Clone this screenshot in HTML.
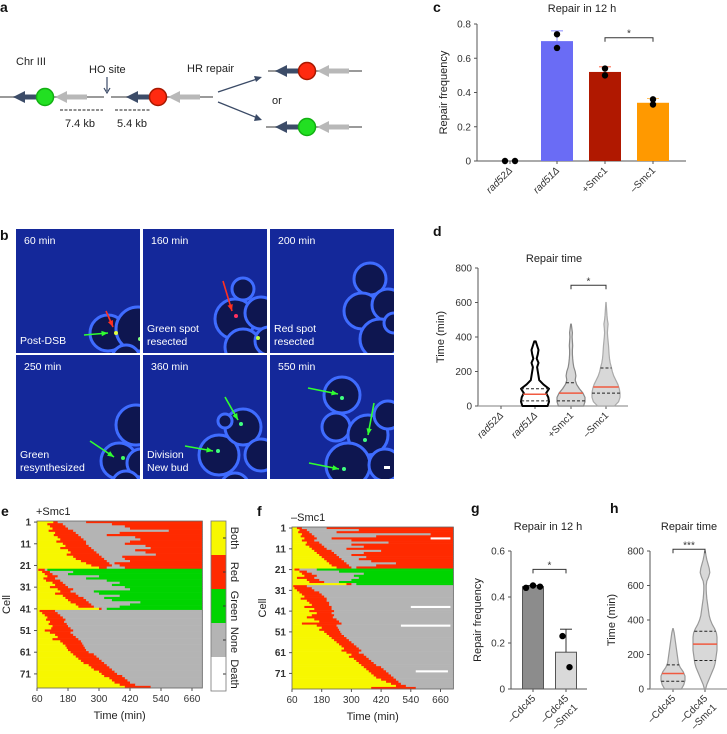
<!DOCTYPE html>
<html><head><meta charset="utf-8">
<style>
html,body{margin:0;padding:0;background:#fff;}
svg{display:block;font-family:"Liberation Sans",sans-serif;}
.t{font-size:10px;fill:#333;}
.ti{font-size:11px;fill:#222;}
.pl{font-size:14px;font-weight:bold;fill:#111;}
.w{font-size:10.5px;fill:#fff;}
</style></head>
<body>
<svg id="fig" width="727" height="734" viewBox="0 0 727 734" xmlns="http://www.w3.org/2000/svg">
<!-- panel a -->
<g>
<text class="pl" x="0" y="12">a</text>
<text class="ti" x="16" y="65">Chr III</text>
<text class="ti" x="89" y="73">HO site</text>
<line x1="107" y1="77" x2="107" y2="91" stroke="#3a4a66" stroke-width="1.2"/>
<path d="M104,88 L107,93 L110,88" fill="none" stroke="#3a4a66" stroke-width="1.2"/>
<text class="ti" x="187" y="72">HR repair</text>
<text class="ti" x="272" y="104">or</text>
<line x1="60" y1="110" x2="103" y2="110" stroke="#222" stroke-dasharray="3,1.5" stroke-width="1"/>
<line x1="115" y1="110" x2="150" y2="110" stroke="#222" stroke-dasharray="3,1.5" stroke-width="1"/>
<text class="ti" x="65" y="127">7.4 kb</text>
<text class="ti" x="117" y="127">5.4 kb</text>
<line x1="218" y1="92" x2="260" y2="78" stroke="#3a4a66" stroke-width="1.3"/>
<path d="M254,76 L262,77 L256,82 Z" fill="#3a4a66"/>
<line x1="218" y1="102" x2="260" y2="119" stroke="#3a4a66" stroke-width="1.3"/>
<path d="M256,114 L262,120 L254,121 Z" fill="#3a4a66"/>
</g>
<g id="diag"></g>
<!-- panel b -->
<text class="pl" x="0" y="240">b</text>
<g id="micro"></g>
<!-- panel c -->
<text class="pl" x="433" y="12">c</text>
<g id="pc"></g>
<!-- panel d -->
<text class="pl" x="433" y="236">d</text>
<g id="pd"></g>
<!-- panel e, f -->
<text class="pl" x="1" y="516">e</text>
<g id="pe"></g>
<text class="pl" x="257" y="516">f</text>
<g id="pf"></g>
<!-- g h -->
<text class="pl" x="471" y="513">g</text>
<g id="pg"></g>
<text class="pl" x="610" y="513">h</text>
<g id="ph"></g>
</svg>
<script>
// ---------- data ----------
const cCats = ["rad52Δ","rad51Δ","+Smc1","–Smc1"];
const cItalic = [true,true,false,false];
const cVals = [0,0.70,0.52,0.34];
const cErr = [0,0.76,0.55,0.365];
const cDots = [[0,0],[0.74,0.66],[0.54,0.50],[0.36,0.33]];
const cTicks = [0,0.2,0.4,0.6,0.8];
const cColors = ["#6a6cf5","#6a6cf5","#b01800","#ff9900"];

const dCats = ["rad52Δ","rad51Δ","+Smc1","–Smc1"];
const dTicks = [0,200,400,600,800];
const dDens = [[],
 [0.9,1.0,0.95,0.8,1.0,0.6,0.3,0.25,0.2,0.15,0.25,0.12,0.2,0.25,0.15,0.05],
 [0.9,1.0,1.0,0.85,0.6,0.4,0.3,0.35,0.3,0.2,0.15,0.12,0.1,0.1,0.12,0.1,0.08,0.1,0.06,0.02],
 [0.6,0.9,1.0,1.0,0.95,0.85,0.7,0.55,0.45,0.38,0.3,0.25,0.22,0.2,0.18,0.15,0.12,0.1,0.12,0.15,0.1,0.07,0.05,0.03,0.01]];
const dMedian = [null,68,75,110];
const dQ1 = [null,30,30,75];
const dQ3 = [null,100,135,220];

const gCats = ["–Cdc45","–Cdc45\n–Smc1"];
const gVals = [0.445,0.16];
const gErr = [0.45,0.26];
const gDots = [[0.44,0.45,0.445],[0.23,0.095]];
const gTicks = [0,0.2,0.4,0.6];

const hCats = ["–Cdc45","–Cdc45\n–Smc1"];
const hTicks = [0,200,400,600,800];
const hDens = [
 [0.7,0.9,1.0,1.0,0.85,0.6,0.45,0.4,0.35,0.3,0.25,0.2,0.15,0.1,0.02],
 [0.05,0.15,0.3,0.45,0.6,0.75,0.85,0.9,0.95,1,1,1,1,0.95,0.8,0.6,0.45,0.35,0.3,0.25,0.2,0.15,0.12,0.1,0.1,0.15,0.3,0.4,0.35,0.25,0.15,0.08,0.02]];
const hMedian = [90,260];
const hQ1 = [45,165];
const hQ3 = [140,335];

// heatmap e (+Smc1): each row: yellow until t1, red until t2, grey until t3, final state to end
const eFinal = ["R","G","N"];
const eT1 = [
 [123,100,110,120,105,130,125,140,150,135,160,170,150,180,190,175,200,210,230,250,270,300],
 [65,80,90,100,85,95,120,130,110,140,150,130,160,170,180,190,210,220,300],
 [70,80,90,100,95,110,105,120,115,90,110,130,140,120,150,160,170,175,180,190,200,210,220,230,240,260,270,280,300,310,320,340,350,360,380,400]];
const eT2 = [
 [140,160,170,180,200,210,220,230,240,250,250,260,270,280,290,300,310,320,330,340,350,330],
 [90,110,120,140,130,150,160,170,180,200,190,210,220,240,250,260,270,280,310],
 [130,140,150,160,170,165,175,180,190,200,190,200,210,220,230,235,240,245,250,260,280,290,300,310,320,330,340,350,360,370,390,400,410,420,440,500]];
const eT3 = [
 [250,350,400,420,570,380,330,440,460,420,400,480,500,440,480,520,390,400,420,360,380,400],
 [100,200,180,300,250,330,380,350,400,420,280,300,380,320,350,460,420,380,330],
 null];
// heatmap f (–Smc1)
const fFinal = ["R","G","N"];
const fT1 = [
 [80,90,85,100,95,110,100,120,115,130,140,150,160,170,180,190,200,210,220,240],
 [70,90,100,110,80,120,130,280],
 [65,70,80,90,100,110,95,120,130,140,110,150,130,160,140,120,150,170,100,160,180,170,190,200,210,220,230,240,250,260,270,260,280,300,290,310,320,330,340,350,360,370,380,390,400,420,440,460,480,380]];
const fT2 = [
 [100,120,130,140,150,160,150,170,180,190,200,220,230,240,250,260,270,280,290,300],
 [90,120,140,160,150,170,190,300],
 [120,140,150,170,180,190,200,200,210,210,220,220,230,220,230,225,240,250,260,240,245,250,255,260,270,280,290,300,310,320,330,340,330,350,360,370,380,390,400,420,430,440,450,460,470,480,490,500,520,560]];
const fT3 = [
 [200,330,240,620,400,220,300,450,300,350,280,420,350,300,360,330,380,480,400,320],
 [160,250,350,310,330,300,250,320],
 null];
const fDeathRow = [6,39,48,70];
const fDeathStart = [620,540,500,560];
const fDeathEnd = [700,700,700,690];
const heatTicks = [60,180,300,420,540,660];
const cellTicks = [1,11,21,31,41,51,61,71];

const COL = {Y:"#f7f700",R:"#ff2a00",G:"#00d400",N:"#b4b4b4",W:"#ffffff"};
const NS = "http://www.w3.org/2000/svg";
function mk(tag, at, parent){const e=document.createElementNS(NS,tag);for(const k in at)e.setAttribute(k,at[k]);parent.appendChild(e);return e;}
function txt(s, at, parent){const e=mk("text",at,parent);e.textContent=s;return e;}

// ---------- panel a locus drawings ----------
(function(){
 const g=document.getElementById("diag");
 function locus(x0,x1,y,cx,color,stroke){
  const l=mk("line",{x1:x0,y1:y,x2:x1,y2:y,stroke:"#9a9a9a","stroke-width":2},g);
  
  
  const da=mk("path",{d:`M${cx-32},${y} L${cx-20},${y-6} L${cx-20},${y-2.5} L${cx-6},${y-2.5} L${cx-6},${y+2.5} L${cx-20},${y+2.5} L${cx-20},${y+6} Z`,fill:"#3c4c68"},g);
  
  
  const ga=mk("path",{d:`M${cx+10},${y} L${cx+22},${y-6} L${cx+22},${y-2.5} L${cx+42},${y-2.5} L${cx+42},${y+2.5} L${cx+22},${y+2.5} L${cx+22},${y+6} Z`,fill:"#b8b8b8"},g);
  
  
  const c=mk("circle",{cx:cx,cy:y,r:8.5,fill:color,stroke:stroke,"stroke-width":1.5},g);
  
  
 }
 locus(0,104,97,45,"#22e022","#12b012");
 locus(111,213,97,158,"#ff2a10","#a81800");
 locus(268,362,71,307,"#ff2a10","#a81800");
 locus(266,362,127,307,"#22e022","#12b012");
})();

// ---------- panel b microscopy ----------
(function(){
 const g=document.getElementById("micro");
 const tiles=[
  {x:16,y:229,t:"60 min",lab:["Post-DSB"],cells:[[92,104,18],[122,100,22],[110,130,14]],spots:[[100,104,"#e0ff40"],[124,110,"#80ff80"]],arrows:[[68,106,92,104,"#30ff30"],[90,82,97,98,"#ff3020"]]},
  {x:143,y:229,t:"160 min",lab:["Green spot","resected"],cells:[[92,90,20],[118,84,16],[100,118,18],[100,60,11],[126,112,14]],spots:[[93,87,"#ff3060"],[115,109,"#c0ff40"]],arrows:[[80,52,89,82,"#ff3020"]]},
  {x:270,y:229,t:"200 min",lab:["Red spot","resected"],cells:[[100,50,16],[92,82,18],[118,76,16],[110,110,20],[124,94,10]],spots:[],arrows:[]},
  {x:16,y:355,t:"250 min",lab:["Green","resynthesized"],cells:[[103,106,18],[120,70,20],[125,108,14],[110,130,14]],spots:[[107,72+0,"#00000000"],[107,103,"#40ff60"]],arrows:[[74,86,98,102,"#30ff30"]]},
  {x:143,y:355,t:"360 min",lab:["Division","New bud"],cells:[[76,100,20],[100,72,18],[82,66,7],[118,100,16],[92,132,14]],spots:[[98,69,"#40ff80"],[75,96,"#40ff80"]],arrows:[[82,42,95,65,"#30ff30"],[42,91,70,96,"#30ff30"]]},
  {x:270,y:355,t:"550 min",lab:[],cells:[[72,40,18],[66,72,14],[98,80,20],[78,110,22],[118,60,14],[115,110,16]],spots:[[72,43,"#40ff80"],[95,85,"#40ff80"],[74,114,"#40ff80"]],arrows:[[38,33,68,39,"#30ff30"],[104,48,98,80,"#30ff30"],[39,108,69,114,"#30ff30"]]}
 ];
 tiles.forEach((T,i)=>{
  const tg=mk("g",{transform:`translate(${T.x},${T.y})`},g);
  
  
  const cp=mk("clipPath",{id:"clip"+i},tg);
  mk("rect",{x:0,y:0,width:124,height:124},cp);
  const inner=mk("g",{"clip-path":`url(#clip${i})`},tg);
  mk("rect",{x:0,y:0,width:124,height:124,fill:"#14289a"},inner);
  T.cells.forEach(c=>{const ce=mk("circle",{cx:c[0],cy:c[1],r:c[2],fill:"#0e1650",stroke:"#3f6cff","stroke-width":3},inner);
   
   });
  T.spots.forEach(s=>{mk("circle",{cx:s[0],cy:s[1],r:2,fill:s[2]},inner);});
  T.arrows.forEach(a=>{
   const ar=mk("line",{x1:a[0],y1:a[1],x2:a[2],y2:a[3],stroke:a[4],"stroke-width":1.6},inner);
   
   
   const ang=Math.atan2(a[3]-a[1],a[2]-a[0]);
   const p1=[a[2]-7*Math.cos(ang-0.4),a[3]-7*Math.sin(ang-0.4)],p2=[a[2]-7*Math.cos(ang+0.4),a[3]-7*Math.sin(ang+0.4)];
   mk("path",{d:`M${a[2]},${a[3]} L${p1[0]},${p1[1]} L${p2[0]},${p2[1]} Z`,fill:a[4]},inner);
  });
  const tt=txt(T.t,{class:"w",x:8,y:15},tg);
  
  
  T.lab.forEach((l,j)=>{const lt=txt(l,{class:"w",x:4,y:(T.lab.length==1?115:103)+j*13},tg);
   
   });
  if(i==5){mk("rect",{x:114,y:111,width:6,height:3,fill:"#fff"},tg);}
 });
})();

// ---------- bar chart helper ----------
function barChart(gid, o){
 const g=document.getElementById(gid);
 const y=v=>o.y0-(v/o.vmax)*(o.y0-o.ytop);
 mk("line",{x1:o.ax,y1:o.ytop,x2:o.ax,y2:o.y0,stroke:"#555","stroke-width":1},g);
 mk("line",{x1:o.ax,y1:o.y0,x2:o.axEnd,y2:o.y0,stroke:"#555","stroke-width":1},g);
 o.ticks.forEach(t=>{
  mk("line",{x1:o.ax-3,y1:y(t),x2:o.ax,y2:y(t),stroke:"#555"},g);
  const tl=txt(String(t),{class:"t",x:o.ax-6,y:y(t)+3.5,"text-anchor":"end"},g);
  
  
 });
 const yl=txt(o.ylabel,{class:"ti",transform:`translate(${o.ylx},${(o.ytop+o.y0)/2}) rotate(-90)`,"text-anchor":"middle"},g);
 
 
 const tt=txt(o.title,{class:"ti",x:o.tx,y:o.ty,"text-anchor":"middle"},g);
 
 
 o.cats.forEach((c,i)=>{
  const cx=o.xs[i];
  if(o.vals[i]>0){
   const b=mk("rect",{x:cx-o.bw/2,y:y(o.vals[i]),width:o.bw,height:o.y0-y(o.vals[i]),fill:o.colors[i],stroke:o.strokes?o.strokes[i]:"none","stroke-width":1},g);
   
   
   const e=mk("line",{x1:cx,y1:y(o.vals[i]),x2:cx,y2:y(o.err[i]),stroke:o.errCol?o.errCol[i]:"#333","stroke-width":1},g);
   
   
   mk("line",{x1:cx-6,y1:y(o.err[i]),x2:cx+6,y2:y(o.err[i]),stroke:o.errCol?o.errCol[i]:"#333","stroke-width":1},g);
  }
  mk("line",{x1:cx,y1:o.y0,x2:cx,y2:o.y0+3,stroke:"#555"},g);
  const n=o.dots[i].length;
  o.dots[i].forEach((d,j)=>{
   const off=o.spread?(j-(n-1)/2)*o.spread:0;
   const dt=mk("circle",{cx:cx+off,cy:y(d),r:3.2,fill:"#000"},g);
   
   
  });
  const lines=c.split("\n");
  lines.forEach((ln,k)=>{
   const lt=txt(ln,{class:"t",transform:`translate(${cx+3+k*9},${o.y0+10+k*9}) rotate(-45)`,"text-anchor":"end","font-style":(o.italic&&o.italic[i])?"italic":"normal"},g);
   
   
  });
 });
 if(o.sig){const [a,b,v,s]=o.sig;
  const br=mk("path",{d:`M${o.xs[a]},${y(v)+4} L${o.xs[a]},${y(v)} L${o.xs[b]},${y(v)} L${o.xs[b]},${y(v)+4}`,fill:"none",stroke:"#333"},g);
  
  
  txt(s,{class:"t",x:(o.xs[a]+o.xs[b])/2,y:y(v)-1,"text-anchor":"middle"},g);}
 return y;
}
barChart("pc",{ax:477,axEnd:686,y0:161,ytop:24,vmax:0.8,ticks:cTicks,cats:cCats,italic:cItalic,xs:[510,557,605,653],bw:32,vals:cVals,err:cErr,errCol:["#333","#8a8cff","#ff6040","#ffc060"],dots:[[0,0],[cDots[1][0],cDots[1][1]],cDots[2],cDots[3]],spread:0,colors:cColors,ylabel:"Repair frequency",ylx:447,title:"Repair in 12 h",tx:582,ty:12,sig:[2,3,0.72,"*"]});
// rad52 dots offset
(function(){const g=document.getElementById("pc");g.querySelectorAll("circle").forEach((c,i)=>{if(i==0)c.setAttribute("cx",505);if(i==1)c.setAttribute("cx",515);});})();
barChart("pg",{ax:511,axEnd:587,y0:689,ytop:551,vmax:0.6,ticks:gTicks,cats:gCats,xs:[533,566],bw:21,vals:gVals,err:gErr,dots:gDots,spread:7,colors:["#8c8c8c","#d9d9d9"],strokes:["#555","#555"],ylabel:"Repair frequency",ylx:481,title:"Repair in 12 h",tx:548,ty:530,sig:[0,1,0.52,"*"]});

// ---------- violin helper ----------
function violin(gid,o){
 const g=document.getElementById(gid);
 const y=v=>o.y0-(v/o.vmax)*(o.y0-o.ytop);
 mk("line",{x1:o.ax,y1:o.ytop,x2:o.ax,y2:o.y0,stroke:"#555"},g);
 mk("line",{x1:o.ax,y1:o.y0,x2:o.axEnd,y2:o.y0,stroke:"#999","stroke-width":1.2},g);
 o.ticks.forEach(t=>{
  mk("line",{x1:o.ax-3,y1:y(t),x2:o.ax,y2:y(t),stroke:"#555"},g);
  const tl=txt(String(t),{class:"t",x:o.ax-6,y:y(t)+3.5,"text-anchor":"end"},g);
  
  
 });
 const yl=txt("Time (min)",{class:"ti",transform:`translate(${o.ylx},${(o.ytop+o.y0)/2}) rotate(-90)`,"text-anchor":"middle"},g);
 
 
 const tt=txt(o.title,{class:"ti",x:o.tx,y:o.ty,"text-anchor":"middle"},g);
 
 
 o.cats.forEach((c,i)=>{
  const cx=o.xs[i];
  mk("line",{x1:cx,y1:o.y0,x2:cx,y2:o.y0+3,stroke:"#555"},g);
  c.split("\n").forEach((ln,k)=>{
   const lt=txt(ln,{class:"t",transform:`translate(${cx+3+k*9},${o.y0+10+k*9}) rotate(-45)`,"text-anchor":"end","font-style":(o.italic&&o.italic[i])?"italic":"normal"},g);
   
   
  });
  const d=o.dens[i]; if(!d.length) return;
  const hw=v=>{const k=v/o.step;const a=Math.floor(k),b=Math.min(a+1,d.length-1);const f=k-a;return (d[a]*(1-f)+d[b]*f)*o.maxW;};
  let R=[],L=[];
  d.forEach((v,k)=>{R.push(`${cx+v*o.maxW},${y(k*o.step)}`);L.unshift(`${cx-v*o.maxW},${y(k*o.step)}`);});
  const p=mk("path",{d:"M"+R.join(" L")+" L"+L.join(" L")+" Z",fill:o.fill[i],stroke:o.stroke[i],"stroke-width":o.sw[i],"stroke-linejoin":"round"},g);
  
  
  [[o.q1[i],"#222",true],[o.q3[i],"#222",true],[o.med[i],"#f05a40",false]].forEach(([v,col,dash])=>{
   const w=hw(v);
   const ln=mk("line",{x1:cx-w,y1:y(v),x2:cx+w,y2:y(v),stroke:col,"stroke-width":dash?1:1.5,"stroke-dasharray":dash?"3,2":"none"},g);
   
   
  });
 });
 if(o.sig){const [a,b,v,s]=o.sig;
  const br=mk("path",{d:`M${o.xs[a]},${y(v)+4} L${o.xs[a]},${y(v)} L${o.xs[b]},${y(v)} L${o.xs[b]},${y(v)+4}`,fill:"none",stroke:"#333"},g);
  
  
  txt(s,{class:"t",x:(o.xs[a]+o.xs[b])/2,y:y(v)-1,"text-anchor":"middle"},g);}
}
violin("pd",{ax:478,axEnd:628,y0:406,ytop:268,vmax:800,ticks:dTicks,cats:dCats,italic:[true,true,false,false],xs:[501,535,571,606],dens:dDens,step:25,maxW:14,med:dMedian,q1:dQ1,q3:dQ3,fill:["#fff","#fff","#d8d8d8","#d8d8d8"],stroke:["#000","#000","#888","#aaa"],sw:[2,2,1.2,1.2],ylx:444,title:"Repair time",tx:554,ty:262,sig:[2,3,700,"*"]});
violin("ph",{ax:650,axEnd:727,y0:689,ytop:551,vmax:800,ticks:hTicks,cats:hCats,xs:[673,705],dens:hDens,step:25,maxW:12,med:hMedian,q1:hQ1,q3:hQ3,fill:["#d8d8d8","#d8d8d8"],stroke:["#999","#999"],sw:[1.2,1.2],ylx:615,title:"Repair time",tx:689,ty:530,sig:[0,1,810,"***"]});

// ---------- heatmaps ----------
function heat(gid,o){
 const g=document.getElementById(gid);
 const x=t=>o.x0+(t-60)*(o.px120/120);
 const tEnd=o.tEnd;
 const rowH=(o.y1-o.y0)/o.nRows;
 let row=0;
 o.final.forEach((fs,gi)=>{
  o.t1[gi].forEach((t1,j)=>{
   const t2=o.t2[gi][j];
   const t3=o.t3[gi]?o.t3[gi][j]:t2;
   const segs=[["Y",60,t1],["R",t1,t2],["N",t2,t3],[fs,t3,tEnd]];
   const yy=o.y0+row*rowH;
   segs.forEach(s=>{if(s[2]>s[1]){
    const r=mk("rect",{x:x(s[1]),y:yy,width:x(s[2])-x(s[1])+0.3,height:rowH+0.3,fill:COL[s[0]]},g);
    
    
   }});
   row++;
  });
 });
 if(o.death){o.death[0].forEach((r,i)=>{
  const d=mk("rect",{x:x(o.death[1][i]),y:o.y0+(r-1)*rowH,width:x(o.death[2][i])-x(o.death[1][i]),height:rowH,fill:"#fff"},g);
  
  
 });}
 mk("rect",{x:o.x0,y:o.y0,width:x(tEnd)-o.x0,height:o.y1-o.y0,fill:"none",stroke:"#666","stroke-width":0.8},g);
 heatTicks.forEach(t=>{
  mk("line",{x1:x(t),y1:o.y1,x2:x(t),y2:o.y1+3,stroke:"#555"},g);
  const tl=txt(String(t),{class:"t",x:x(t),y:o.y1+14,"text-anchor":"middle"},g);
  
  
 });
 cellTicks.forEach(c=>{
  const yy=o.y0+(c-0.5)*rowH;
  mk("line",{x1:o.x0-3,y1:yy,x2:o.x0,y2:yy,stroke:"#555"},g);
  const tl=txt(String(c),{class:"t",x:o.x0-6,y:yy+3.5,"text-anchor":"end","font-weight":"bold","fill":"#444"},g);
  
  
 });
 const xt=txt("Time (min)",{class:"ti",x:(o.x0+x(tEnd))/2,y:o.y1+31,"text-anchor":"middle"},g);
 
 
 const yt=txt("Cell",{class:"ti",transform:`translate(${o.ylx},${(o.y0+o.y1)/2}) rotate(-90)`,"text-anchor":"middle"},g);
 
 
 const tt=txt(o.title,{class:"ti",x:o.x0-1,y:o.y0-6},g);
 
 
}
heat("pe",{x0:37,y0:521,y1:688,px120:31,tEnd:700,nRows:77,final:eFinal,t1:eT1,t2:eT2,t3:eT3,ylx:10,title:"+Smc1"});
heat("pf",{x0:292,y0:527,y1:689,px120:29.7,tEnd:712,nRows:78,final:fFinal,t1:fT1,t2:fT2,t3:fT3,death:[fDeathRow,fDeathStart,fDeathEnd],ylx:266,title:"–Smc1"});

// colour legend
(function(){
 const g=document.getElementById("pe");
 const names=["Both","Red","Green","None","Death"], keys=["Y","R","G","N","W"];
 const x0=211,y0=521,h=34;
 names.forEach((n,i)=>{
  const r=mk("rect",{x:x0,y:y0+i*h,width:15,height:h,fill:COL[keys[i]]},g);
  
  
  mk("line",{x1:x0+12,y1:y0+i*h+h/2,x2:x0+15,y2:y0+i*h+h/2,stroke:"#333"},g);
  const t=txt(n,{class:"ti",transform:`translate(${x0+20},${y0+i*h+h/2}) rotate(90)`,"text-anchor":"middle"},g);
  
  
 });
 mk("rect",{x:x0,y:y0,width:15,height:5*h,fill:"none",stroke:"#777","stroke-width":0.8},g);
})();
</script>
</body></html>
